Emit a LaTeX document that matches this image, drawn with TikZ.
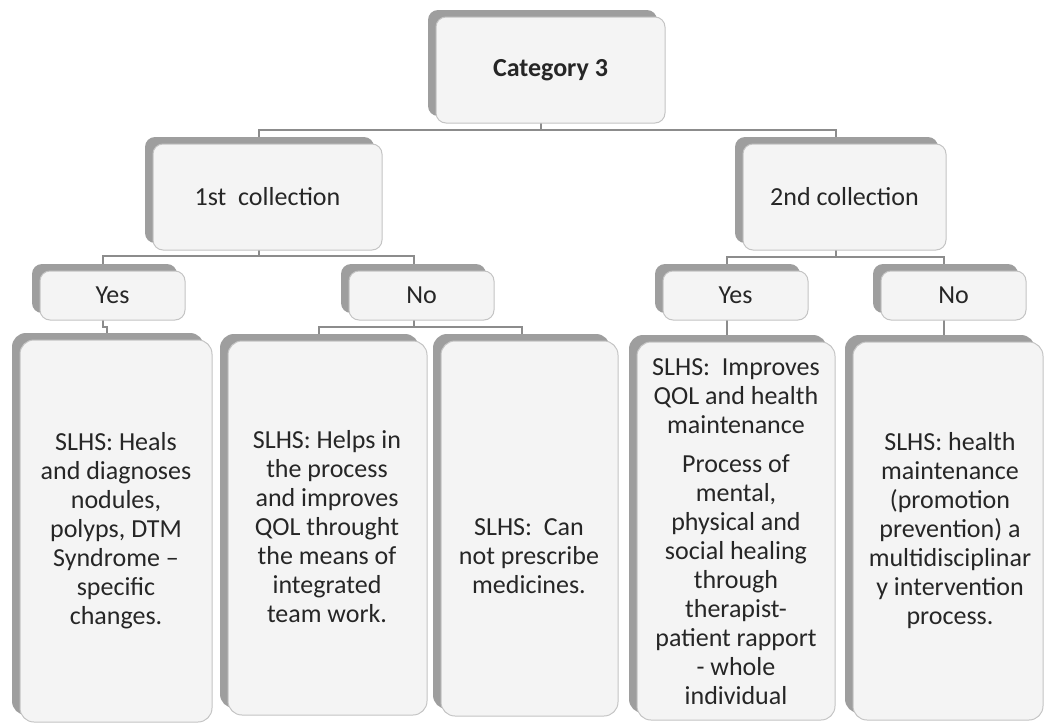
\documentclass[tikz,border=0pt]{standalone}
\usepackage{fontspec}
\setmainfont{Carlito}
\usetikzlibrary{shadows,backgrounds}
\definecolor{boxfill}{HTML}{F4F4F4}
\definecolor{edgegray}{HTML}{C4C4C4}
\definecolor{shadegray}{HTML}{9E9E9E}
\definecolor{linegray}{HTML}{8C8C8C}
\definecolor{textcol}{HTML}{262626}
\newcommand\bodyfont{\fontsize{26pt}{29pt}\selectfont}
\begin{document}
\begin{tikzpicture}[x=1pt,y=-1pt,
  basebox/.style={rectangle, fill=boxfill, draw=edgegray, line width=1pt,
    inner sep=0pt, outer sep=0pt, text=textcol, font=\bodyfont, align=center,
    general shadow={fill=shadegray, draw=none, shadow xshift=-8pt, shadow yshift=7pt}},
  smallbox/.style={basebox, rounded corners=10pt},
  bigbox/.style={basebox, rounded corners=14pt},
  txt/.style={align=center, font=\bodyfont, text=textcol, inner sep=0pt},
  link/.style={draw=linegray, line width=1.2pt}]
\useasboundingbox (0,0) rectangle (1045,723);

% top levels
\node[smallbox, minimum width=229pt, minimum height=106pt] (cat) at (550.5,70) {\textbf{Category 3}};
\node[smallbox, minimum width=229pt, minimum height=106pt] (c1) at (267.5,197) {1st~ collection};
\node[smallbox, minimum width=203pt, minimum height=106pt] (c2) at (844.5,197) {2nd collection};

% yes / no
\node[smallbox, minimum width=145pt, minimum height=49pt] (y1) at (112.5,295.5) {Yes};
\node[smallbox, minimum width=145pt, minimum height=49pt] (n1) at (421.5,295.5) {No};
\node[smallbox, minimum width=145pt, minimum height=49pt] (y2) at (735.5,295.5) {Yes};
\node[smallbox, minimum width=145pt, minimum height=49pt] (n2) at (953.5,295.5) {No};

% big boxes
\node[bigbox, minimum width=192pt, minimum height=382pt] (b1) at (116,531) {};
\node[bigbox, minimum width=199pt, minimum height=374pt] (b2) at (327.5,528) {};
\node[bigbox, minimum width=177pt, minimum height=375pt] (b3) at (529.5,528.5) {};
\node[bigbox, minimum width=198pt, minimum height=378pt] (b4) at (736,531) {};
\node[bigbox, minimum width=190pt, minimum height=378pt] (b5) at (948,531) {};

\node[txt] (t1) at (116,531) {SLHS: Heals\\and diagnoses\\nodules,\\polyps, DTM\\Syndrome –\\specific\\changes.};
\node[txt] (t2) at (327,527) {SLHS: Helps in\\the process\\and improves\\QOL throught\\the means of\\integrated\\team work.};
\node[txt] (t3) at (529,556) {SLHS:~ Can\\not prescribe\\medicines.};
\node[txt] (t4) at (736,532) {SLHS:~ Improves\\QOL and health\\maintenance\\[10pt]Process of\\mental,\\physical and\\social healing\\through\\therapist-\\patient rapport\\- whole\\individual};
\node[txt] (t5) at (950,531) {SLHS: health\\maintenance\\(promotion\\prevention) a\\multidisciplinar\\y intervention\\process.};

% junctions
\coordinate (j0) at (541,130);
\coordinate (j1) at (259,256);
\coordinate (j2) at (836,257);
\coordinate (j3) at (414,327);
\coordinate (jy) at (103,327);

\begin{scope}[on background layer]
\draw[link] (cat.south -| j0) -- (j0);
\draw[link] (j0) -| (c1.north -| j1);
\draw[link] (j0) -| (c2.north -| j2);
\draw[link] (c1.south -| j1) -- (j1);
\draw[link] (j1) -| (y1.north -| jy);
\draw[link] (j1) -| (n1.north -| j3);
\draw[link] (n1.south -| j3) -- (j3);
\draw[link] (j3) -| (b2.north -| 319,0);
\draw[link] (j3) -| (b3.north -| 522,0);
\draw[link] (y1.south -| jy) -- (jy) -- (107,327) -- (b1.north -| 107,0);
\draw[link] (c2.south -| j2) -- (j2);
\draw[link] (j2) -| (y2.north -| 727,0);
\draw[link] (j2) -| (n2.north -| 944,0);
\draw[link] (y2.south -| 727,0) -- (b4.north -| 727,0);
\draw[link] (n2.south -| 944,0) -- (b5.north -| 944,0);
\end{scope}
\end{tikzpicture}
\end{document}
